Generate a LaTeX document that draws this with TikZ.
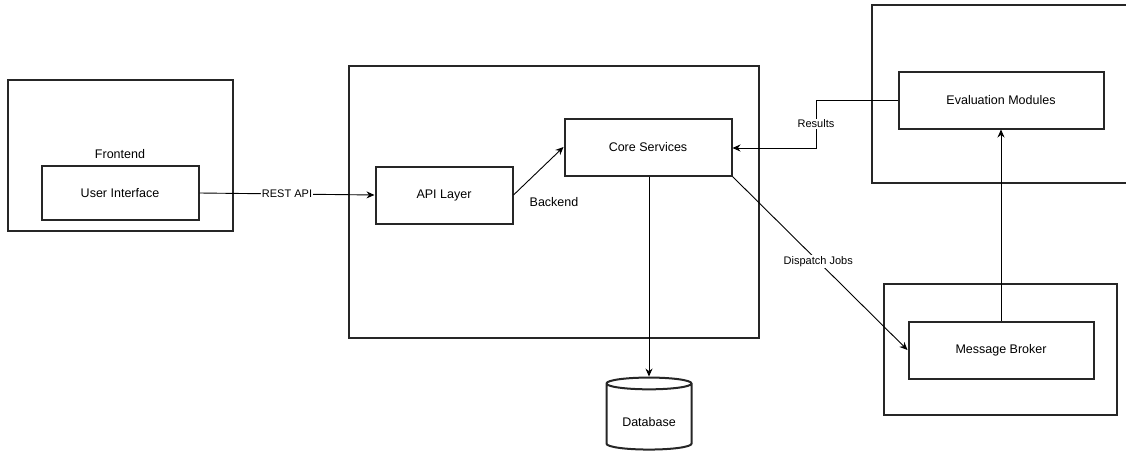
\documentclass[tikz,border=0pt]{standalone}
\usepackage{fontspec}
\setmainfont{Liberation Sans}
\usetikzlibrary{arrows.meta,shapes.geometric}
\begin{document}
\begin{tikzpicture}[x=1pt,y=-1pt,
  outer/.style={draw=black!85,line width=2pt},
  box/.style={draw=black!85,line width=2pt,inner sep=0pt,font=\fontsize{12.5}{14}\selectfont},
  conn/.style={draw=black,line width=0.9pt,-{Stealth[length=8pt,width=7pt]}},
  lbl/.style={font=\fontsize{11}{13}\selectfont,fill=white,inner sep=1pt},
  txt/.style={font=\fontsize{12.5}{14}\selectfont,inner sep=0pt}]
\useasboundingbox (0,0) rectangle (1126,452);
% group containers
\draw[outer] (8,80) rectangle (233,231);
\draw[outer] (349,66) rectangle (759,338);
\draw[outer] (1132,5) -- (872,5) -- (872,183) -- (1132,183);
\draw[outer] (884,284) rectangle (1117,415);
% nodes
\node[txt] (fe) at (120,154) {Frontend};
\node[txt] (be) at (554,202) {Backend};
\node[box,minimum width=157pt,minimum height=54pt] (ui) at (120,193) {User Interface};
\node[box,minimum width=137pt,minimum height=57pt] (api) at (444,195) {API Layer};
\node[box,minimum width=167pt,minimum height=57pt] (core) at (648,147) {Core Services};
\node[box,minimum width=205pt,minimum height=57pt] (eval) at (1001,100) {Evaluation Modules};
\node[box,minimum width=185pt,minimum height=57pt] (mb) at (1001,350) {Message Broker};
\node[cylinder,shape border rotate=90,draw=black!85,line width=2pt,aspect=0.22,
      minimum width=85pt,minimum height=72pt,inner sep=0pt,
      font=\fontsize{12.5}{14}\selectfont] (db) at (649,417) {\smash{\raisebox{-9pt}{Database}}};
% connectors
\coordinate (rk) at (816,100);
\coordinate (rk2) at (816,148);
\draw[conn] (ui.east) -- node[lbl]{REST API} (api.west);
\draw[conn] (api.east) -- (core.west);
\draw[conn] (eval.west) -- (rk) -- node[lbl]{Results} (rk2) -- (core.east |- rk2);
\draw[conn] (core.south east) -- node[lbl,pos=0.49]{Dispatch Jobs} (mb.west);
\draw[conn] (core.south -| db.north) -- (db.north);
\draw[conn] (mb.north) -- (eval.south);
\end{tikzpicture}
\end{document}
